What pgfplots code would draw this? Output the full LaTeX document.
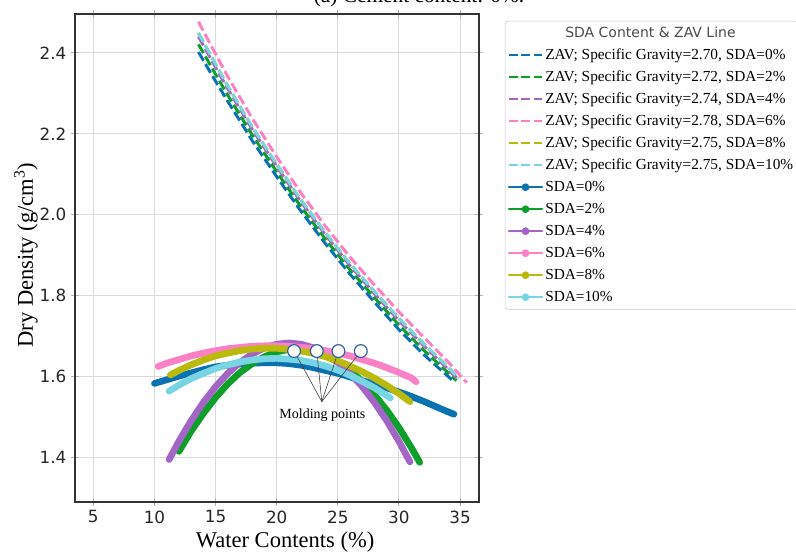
\documentclass[border=0pt]{standalone}
\usepackage{pgfplots}
\pgfplotsset{compat=1.18}
\usepackage{fontspec}
\setmainfont{Liberation Serif}
\newfontfamily\dejavu{DejaVu Sans}

\definecolor{cBlue}{HTML}{0A72B2}
\definecolor{cGreen}{HTML}{0E9E2A}
\definecolor{cPurple}{HTML}{A366C6}
\definecolor{cPink}{HTML}{FB80C6}
\definecolor{cOlive}{HTML}{B9B90E}
\definecolor{cCyan}{HTML}{78D6E4}
\definecolor{cMold}{HTML}{2F5FA8}

\pgfplotsset{
  zav/.style={color=#1, line width=2.2pt, dash pattern=on 7.5pt off 3pt,
    legend image code/.code={\draw[line width=1.6pt, dash pattern=on 6.5pt off 2.8pt] (0pt,0pt) -- (25pt,0pt);}},
  sda/.style={color=#1, line width=5pt, line cap=round, line join=round,
    legend image code/.code={\draw[line width=1.4pt, solid] (0pt,0pt) -- (25pt,0pt); \fill[draw=none] (12.5pt,0pt) circle (2.9pt);}},
}

\begin{document}
\begin{tikzpicture}
\begin{axis}[
    name=ax,
    scale only axis,
    width=303pt,
    height=366pt,
    xmin=3.5, xmax=36.55,
    ymin=1.29, ymax=2.496,
    xtick={5,10,15,20,25,30,35},
    ytick={1.4,1.6,1.8,2.0,2.2,2.4},
    yticklabel style={/pgf/number format/.cd, fixed, fixed zerofill, precision=1},
    /pgf/number format/assume math mode=true,
    tick label style={font=\dejavu\fontsize{12.6}{14}\selectfont, text=black!85},
    tick align=center,
    tick pos=both,
    major tick length=6pt,
    tick style={black!30, line width=0.75pt},
    grid=major,
    major grid style={black!14, line width=0.8pt},
    axis line style={black!80, line width=1.4pt},
    xlabel={Water Contents (\%)},
    ylabel={Dry Density (g/cm\textsuperscript{3})},
    label style={font=\fontsize{16.9}{19}\selectfont},
    xlabel style={at={(axis description cs:0.52,-0.094)}, anchor=base},
    ylabel style={at={(axis description cs:-0.104,0.506)}, anchor=base},
    legend style={at={(1.064,0.986)}, anchor=north west, draw=black!22,
      rounded corners=2pt, fill=white, inner sep=2pt,
      font=\fontsize{11.5}{13}\selectfont, row sep=2.3pt, column sep=0pt,
      nodes={inner sep=1.5pt, text height=8.6pt, text depth=2.6pt}},
    legend cell align=left,
]
\addlegendimage{empty legend}
\addlegendentry{\hspace{15pt}{\dejavu\fontsize{10.5}{12}\selectfont\color{black!70}SDA Content \& ZAV Line}}

% zero air void lines
\addplot[zav=cBlue] coordinates {
  (13.6,2.402) (15,2.330) (16,2.280) (18,2.183) (20,2.094) (22,2.008) (24,1.928)
  (26,1.853) (28,1.784) (30,1.716) (32,1.655) (34,1.601) (34.5,1.587)};
\addlegendentry{ZAV; Specific Gravity=2.70, SDA=0\%}
\addplot[zav=cGreen] coordinates {
  (13.6,2.421) (15,2.347) (16,2.295) (18,2.197) (20,2.106) (22,2.019) (24,1.939)
  (26,1.864) (28,1.795) (30,1.727) (32,1.666) (34,1.610) (34.7,1.590)};
\addlegendentry{ZAV; Specific Gravity=2.72, SDA=2\%}
\addplot[zav=cPurple] coordinates {
  (13.6,2.440) (15,2.364) (16,2.311) (18,2.211) (20,2.119) (22,2.031) (24,1.950)
  (26,1.874) (28,1.805) (30,1.738) (32,1.677) (34,1.619) (34.8,1.594)};
\addlegendentry{ZAV; Specific Gravity=2.74, SDA=4\%}
\addplot[zav=cPink] coordinates {
  (13.6,2.477) (15,2.397) (16,2.341) (18,2.238) (20,2.143) (22,2.053) (24,1.971)
  (26,1.895) (28,1.826) (30,1.760) (32,1.698) (34,1.637) (35.55,1.585)};
\addlegendentry{ZAV; Specific Gravity=2.78, SDA=6\%}
\addplot[zav=cOlive] coordinates {
  (13.6,2.449) (15,2.372) (16,2.318) (18,2.217) (20,2.125) (22,2.036) (24,1.955)
  (26,1.879) (28,1.810) (30,1.744) (32,1.682) (34,1.624) (34.9,1.595)};
\addlegendentry{ZAV; Specific Gravity=2.75, SDA=8\%}
\addplot[zav=cCyan] coordinates {
  (13.6,2.449) (15,2.372) (16,2.318) (18,2.217) (20,2.125) (22,2.036) (24,1.955)
  (26,1.879) (28,1.810) (30,1.744) (32,1.682) (34,1.624) (34.9,1.595)};
\addlegendentry{ZAV; Specific Gravity=2.75, SDA=10\%}

% compaction curves
\addplot[sda=cBlue] coordinates {
  (10,1.583) (11,1.592) (12,1.601) (13,1.609) (14,1.617) (15,1.624) (16,1.628)
  (17,1.631) (18,1.633) (19,1.634) (20,1.634) (21,1.632) (22,1.628) (23,1.622)
  (24,1.615) (25,1.608) (26,1.599) (27,1.590) (28,1.581) (29,1.572) (30,1.562)
  (31,1.551) (32,1.539) (33,1.526) (34,1.513) (34.5,1.507)};
\addlegendentry{SDA=0\%}
\addplot[sda=cGreen] coordinates {
  (12,1.415) (13,1.465) (14,1.509) (15,1.548) (16,1.582) (17,1.610) (18,1.632)
  (19,1.649) (20,1.661) (21,1.667) (22,1.668) (23,1.663) (24,1.652) (25,1.636)
  (26,1.615) (27,1.588) (28,1.555) (29,1.517) (30,1.474) (31,1.425) (31.7,1.388)};
\addlegendentry{SDA=2\%}
\addplot[sda=cPurple] coordinates {
  (11.2,1.395) (12,1.440) (13,1.491) (14,1.536) (15,1.575) (16,1.608) (17,1.635)
  (18,1.656) (19,1.671) (20,1.680) (21,1.683) (22,1.680) (23,1.671) (24,1.656)
  (25,1.635) (26,1.608) (27,1.575) (28,1.536) (29,1.491) (30,1.440) (30.9,1.389)};
\addlegendentry{SDA=4\%}
\addplot[sda=cPink] coordinates {
  (10.3,1.625) (11,1.633) (12,1.642) (13,1.651) (14,1.658) (15,1.664) (16,1.669)
  (17,1.672) (18,1.675) (19,1.676) (20,1.676) (21,1.675) (22,1.672) (23,1.669)
  (24,1.664) (25,1.658) (26,1.651) (27,1.642) (28,1.633) (29,1.622) (30,1.610)
  (31,1.597) (31.4,1.587)};
\addlegendentry{SDA=6\%}
\addplot[sda=cOlive] coordinates {
  (11.3,1.604) (12,1.615) (13,1.629) (14,1.641) (15,1.651) (16,1.658) (17,1.664)
  (18,1.668) (19,1.670) (20,1.670) (21,1.667) (22,1.663) (23,1.657) (24,1.649)
  (25,1.639) (26,1.626) (27,1.612) (28,1.596) (29,1.578) (30,1.558) (30.9,1.538)};
\addlegendentry{SDA=8\%}
\addplot[sda=cCyan] coordinates {
  (11.2,1.564) (12,1.579) (13,1.595) (14,1.608) (15,1.620) (16,1.629) (17,1.636)
  (18,1.641) (19,1.644) (20,1.645) (21,1.643) (22,1.640) (23,1.634) (24,1.626)
  (25,1.616) (26,1.603) (27,1.588) (28,1.572) (29,1.553) (29.3,1.547)};
\addlegendentry{SDA=10\%}

% molding points annotation
\addplot[forget plot, black!75, line width=0.45pt] coordinates {(21.42,1.663) (23.69,1.538)};
\addplot[forget plot, black!75, line width=0.45pt] coordinates {(23.28,1.663) (23.69,1.538)};
\addplot[forget plot, black!75, line width=0.45pt] coordinates {(25.05,1.663) (23.69,1.538)};
\addplot[forget plot, black!75, line width=0.45pt] coordinates {(26.88,1.663) (23.69,1.538)};
\addplot[forget plot, only marks, mark=*, mark size=4.8pt,
  mark options={fill=white, draw=cMold, line width=0.9pt}]
  coordinates {(21.42,1.663) (23.28,1.663) (25.05,1.663) (26.88,1.663)};
\node[font=\fontsize{10.5}{12}\selectfont] at (axis cs:23.74,1.505) {Molding points};
\end{axis}
\node[anchor=base, font=\fontsize{16}{18}\selectfont] at ([xshift=258pt,yshift=8.8pt]ax.north west) {(a) Cement content: 0\%.};
\pgfresetboundingbox
\useasboundingbox ([xshift=-56.25pt,yshift=-39pt]ax.south west) rectangle ([xshift=540.75pt,yshift=10.5pt]ax.north west);
\end{tikzpicture}
\end{document}
